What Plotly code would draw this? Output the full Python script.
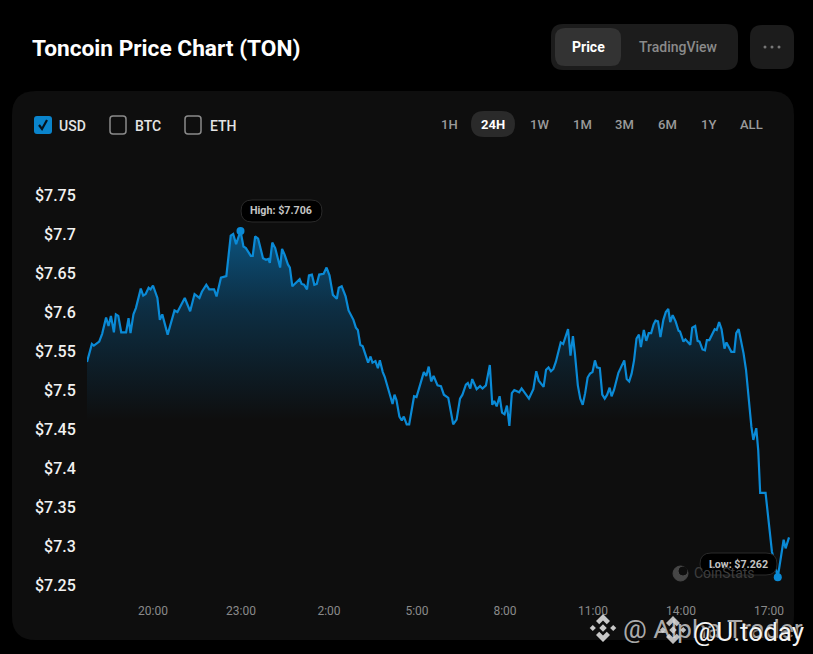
import pandas as pd
import plotly.graph_objects as go

# minutes since the first point of the 24H window
minutes = [
    0, 10, 14, 25, 31, 39, 44, 49, 55, 59, 64, 70, 80, 85, 89, 95, 100, 110, 115, 120,
    126, 130, 135, 144, 149, 154, 165, 179, 185, 200, 211, 220, 230, 235, 244, 250, 260, 265, 274, 285,
    294, 299, 305, 314, 320, 325, 335, 339, 344, 350, 360, 366, 371, 374, 379, 385, 395, 399, 404, 411,
    415, 420, 435, 439, 444, 450, 454, 460, 465, 470, 475, 484, 490, 496, 503, 511, 515, 521, 529, 535,
    545, 550, 554, 559, 564, 571, 575, 580, 584, 590, 595, 599, 605, 609, 625, 629, 633, 639, 644, 648,
    654, 659, 669, 674, 689, 694, 699, 704, 709, 717, 724, 730, 739, 749, 756, 763, 768, 775, 779, 784,
    788, 797, 804, 809, 816, 824, 829, 833, 838, 844, 849, 854, 859, 864, 869, 874, 884, 889, 898, 904,
    913, 919, 924, 934, 939, 944, 949, 954, 959, 969, 974, 984, 989, 994, 998, 1004, 1009, 1014, 1019, 1024,
    1029, 1034, 1039, 1043, 1049, 1054, 1059, 1064, 1069, 1073, 1078, 1087, 1099, 1104, 1109, 1114, 1119, 1124, 1129, 1133,
    1139, 1144, 1149, 1154, 1159, 1163, 1168, 1173, 1179, 1184, 1189, 1193, 1198, 1204, 1210, 1213, 1220, 1224, 1234, 1238,
    1244, 1249, 1253, 1259, 1264, 1268, 1273, 1284, 1288, 1293, 1298, 1304, 1308, 1318, 1324, 1328, 1333, 1343, 1348, 1354,
    1359, 1363, 1369, 1373, 1377, 1388, 1401, 1413, 1425, 1429, 1436,
]
prices = [
    7.536, 7.559, 7.557, 7.562, 7.572, 7.593, 7.582, 7.595, 7.574, 7.597, 7.595, 7.574, 7.574, 7.592, 7.573, 7.597, 7.605, 7.630, 7.621, 7.623,
    7.631, 7.629, 7.634, 7.618, 7.590, 7.597, 7.571, 7.602, 7.600, 7.618, 7.601, 7.623, 7.618, 7.626, 7.635, 7.629, 7.629, 7.620, 7.644, 7.646,
    7.698, 7.700, 7.687, 7.704, 7.684, 7.682, 7.672, 7.672, 7.697, 7.694, 7.669, 7.667, 7.668, 7.663, 7.689, 7.682, 7.657, 7.681, 7.674, 7.661,
    7.657, 7.633, 7.642, 7.636, 7.635, 7.629, 7.647, 7.648, 7.635, 7.636, 7.648, 7.649, 7.657, 7.647, 7.622, 7.617, 7.631, 7.633, 7.620, 7.602,
    7.590, 7.580, 7.577, 7.558, 7.556, 7.541, 7.535, 7.543, 7.535, 7.537, 7.528, 7.538, 7.523, 7.517, 7.482, 7.494, 7.487, 7.466, 7.461, 7.466,
    7.456, 7.456, 7.492, 7.491, 7.523, 7.518, 7.530, 7.511, 7.518, 7.506, 7.505, 7.494, 7.490, 7.456, 7.462, 7.489, 7.494, 7.507, 7.509, 7.502,
    7.514, 7.501, 7.505, 7.502, 7.506, 7.532, 7.481, 7.486, 7.479, 7.492, 7.471, 7.469, 7.480, 7.454, 7.496, 7.500, 7.497, 7.502, 7.494, 7.489,
    7.501, 7.524, 7.512, 7.504, 7.526, 7.529, 7.524, 7.527, 7.536, 7.561, 7.559, 7.578, 7.544, 7.569, 7.547, 7.506, 7.489, 7.481, 7.496, 7.516,
    7.521, 7.523, 7.538, 7.529, 7.528, 7.494, 7.489, 7.494, 7.503, 7.492, 7.500, 7.522, 7.538, 7.514, 7.511, 7.521, 7.538, 7.566, 7.571, 7.555,
    7.577, 7.563, 7.573, 7.573, 7.584, 7.589, 7.588, 7.568, 7.590, 7.600, 7.604, 7.587, 7.596, 7.588, 7.576, 7.575, 7.562, 7.565, 7.558, 7.580,
    7.582, 7.563, 7.562, 7.552, 7.551, 7.564, 7.564, 7.578, 7.577, 7.587, 7.578, 7.553, 7.561, 7.549, 7.549, 7.573, 7.578, 7.547, 7.526, 7.483,
    7.453, 7.436, 7.451, 7.423, 7.368, 7.368, 7.293, 7.260, 7.308, 7.297, 7.311,
]

price_ticks = [7.25, 7.3, 7.35, 7.4, 7.45, 7.5, 7.55, 7.6, 7.65, 7.7, 7.75]
price_tick_labels = ["$7.25", "$7.3", "$7.35", "$7.4", "$7.45", "$7.5", "$7.55", "$7.6", "$7.65", "$7.7", "$7.75"]
currencies = ["USD", "BTC", "ETH"]
time_ranges = ["1H", "24H", "1W", "1M", "3M", "6M", "1Y", "ALL"]

WIDTH, HEIGHT = 813, 654
LEFT, RIGHT, TOP, BOTTOM = 87, 23, 170, 62
BLUE = "#0a8ad6"
start = pd.Timestamp("2024-06-14 17:45")
times = start + pd.to_timedelta(minutes, unit="m")


# the page furniture is placed in screen pixels, so convert those to paper coordinates
def px(x):
    return (x - LEFT) / (WIDTH - LEFT - RIGHT)


def py(y):
    return 1 - (y - TOP) / (HEIGHT - TOP - BOTTOM)


def round_rect(x0, y0, x1, y1, r, fill, line="rgba(0,0,0,0)", layer="below", width=1):
    path = (
        f"M {px(x0 + r)} {py(y0)} L {px(x1 - r)} {py(y0)} Q {px(x1)} {py(y0)} {px(x1)} {py(y0 + r)} "
        f"L {px(x1)} {py(y1 - r)} Q {px(x1)} {py(y1)} {px(x1 - r)} {py(y1)} "
        f"L {px(x0 + r)} {py(y1)} Q {px(x0)} {py(y1)} {px(x0)} {py(y1 - r)} "
        f"L {px(x0)} {py(y0 + r)} Q {px(x0)} {py(y0)} {px(x0 + r)} {py(y0)} Z"
    )
    return dict(type="path", xref="paper", yref="paper", path=path, fillcolor=fill,
                line=dict(color=line, width=width), layer=layer)


def polygon(points, fill):
    path = "M " + " L ".join(f"{px(x)} {py(y)}" for x, y in points) + " Z"
    return dict(type="path", xref="paper", yref="paper", path=path, fillcolor=fill,
                line=dict(width=0), layer="above")


def circle(cx, cy, r, fill, line=None, layer="below"):
    return dict(type="circle", xref="paper", yref="paper", layer=layer,
                x0=px(cx - r), x1=px(cx + r), y0=py(cy + r), y1=py(cy - r),
                fillcolor=fill, line=dict(color=line or fill, width=1))


# binance mark of the repost watermark
def diamond_mark(cx, cy, size, fill):
    marks = []
    for dx, dy, r in [(0, 0, 0.27), (-0.73, 0, 0.22), (0.73, 0, 0.22)]:
        x, y = cx + dx * size, cy + dy * size
        marks.append(polygon([(x, y - r * size), (x + r * size, y), (x, y + r * size), (x - r * size, y)], fill))
    for sign in (-1, 1):
        chevron = [(0, 1), (0.5, 0.5), (0.27, 0.27), (0, 0.54), (-0.27, 0.27), (-0.5, 0.5)]
        marks.append(polygon([(cx + a * size, cy + sign * b * size) for a, b in chevron], fill))
    return marks


def label(x, y, text, size, color, anchor="center", weight=500, shadow=None):
    font = dict(family="Roboto", size=size, color=color, weight=weight)
    if shadow:
        font["shadow"] = shadow
    return dict(xref="paper", yref="paper", x=px(x), y=py(y), text=text,
                showarrow=False, xanchor=anchor, yanchor="middle", font=font)


fig = go.Figure()
fig.add_trace(go.Scatter(
    x=times, y=prices, mode="lines",
    line=dict(color=BLUE, width=2.2),
    fill="tozeroy",
    fillgradient=dict(
        type="vertical", start=7.72, stop=7.46,
        colorscale=[[0, "rgba(10,138,214,0.62)"], [0.45, "rgba(10,120,190,0.3)"], [1, "rgba(10,120,190,0)"]],
    ),
    hoverinfo="skip", showlegend=False,
))
# high and low dots
low_i = prices.index(min(prices))
high_i = prices.index(max(prices))
fig.add_trace(go.Scatter(
    x=[times[high_i], times[low_i]], y=[prices[high_i], prices[low_i]], mode="markers",
    marker=dict(color=BLUE, size=8), hoverinfo="skip", showlegend=False,
))

shapes = [
    round_rect(12, 91, 794, 640, 24, "#0e0e0e"),
    round_rect(551, 24, 738, 70, 12, "#1c1c1c"),
    round_rect(555, 28, 621, 66, 10, "#333333"),
    round_rect(750, 25, 794, 69, 12, "#1c1c1c"),
    round_rect(34, 116, 52, 134, 3, "#0a84cc"),
    round_rect(110, 116, 126, 134, 3, "rgba(0,0,0,0)", line="#8a8a8a", width=1.5),
    round_rect(185, 116, 201, 134, 3, "rgba(0,0,0,0)", line="#8a8a8a", width=1.5),
    round_rect(471, 111, 515, 137, 13, "#2a2a2a"),
    round_rect(241, 200, 322, 222, 11, "#000000", line="#2a2a2a", layer="above"),
    round_rect(700, 553, 777, 575, 11, "#000000", line="#2a2a2a", layer="above"),
    dict(type="path", xref="paper", yref="paper", layer="above",
         path=f"M {px(39)} {py(125)} L {px(42)} {py(129)} L {px(47)} {py(120)}",
         line=dict(color="#06121c", width=2.2)),
]
for dot_x in (765, 772, 779):
    shapes.append(round_rect(dot_x - 1.5, 45.5, dot_x + 1.5, 48.5, 1.5, "#777777"))
# CoinStats logo
shapes.append(circle(680.5, 573.5, 7.5, "#464646"))
shapes.append(circle(683, 571, 4, "#0e0e0e"))
shapes += diamond_mark(603, 628, 14, "#c8c8c8")
shapes += diamond_mark(673, 630, 14, "rgba(235,235,235,0.8)")

annotations = [
    label(30, 48, "Toncoin Price Chart (TON)", 22.7, "#ffffff", anchor="left", weight=700),
    label(588, 47, "Price", 14, "#ffffff", weight=700),
    label(678, 47, "TradingView", 14, "#8a8a8a"),
    label(281, 210, "High: $7.706", 10.7, "#c4c4c4", weight=700),
    label(738, 564, "Low: $7.262", 10.7, "#c4c4c4", weight=700),
    label(692, 573, "CoinStats", 14, "#3e3e3e", anchor="left", weight=400),
]
for x, name in zip((57, 133, 208), currencies):
    annotations.append(label(x, 126, name, 14, "#e4e4e4", anchor="left"))
for x, name in zip((449, 493, 539, 582, 624, 667, 708, 751), time_ranges):
    annotations.append(label(x, 124, name, 13, "#ffffff" if name == "24H" else "#9a9a9a",
                             weight=700 if name == "24H" else 500))
# watermarks over the picture
annotations.append(label(621, 628, "@ Alpha Trader", 26.5, "rgba(215,215,215,0.8)", anchor="left", weight=400))
annotations.append(label(691, 632, "@U.today", 26, "#f4f4f4", anchor="left", weight=400,
                         shadow="1px 1px 2px #000000"))

fig.update_layout(
    width=WIDTH, height=HEIGHT,
    margin=dict(l=LEFT, r=RIGHT, t=TOP, b=BOTTOM, autoexpand=False),
    paper_bgcolor="#000000", plot_bgcolor="rgba(0,0,0,0)",
    font=dict(family="Roboto"),
    shapes=shapes, annotations=annotations,
    xaxis=dict(
        range=[start, start + pd.Timedelta(minutes=1438)],
        tick0="2024-06-14 20:00", dtick=3 * 3600 * 1000, tickformat="%-H:%M",
        showgrid=False, zeroline=False, showline=False,
        ticks="outside", ticklen=8, tickcolor="rgba(0,0,0,0)",
        tickfont=dict(family="Roboto", size=12, color="#8a8a8a"),
    ),
    yaxis=dict(
        range=[7.2410, 7.7821],
        tickmode="array", tickvals=price_ticks, ticktext=price_tick_labels,
        showgrid=False, zeroline=False, showline=False,
        ticks="outside", ticklen=7, tickcolor="rgba(0,0,0,0)",
        tickfont=dict(family="Roboto", size=16, color="#f2f2f2", weight=500),
    ),
)

fig.write_html("out.html", config=dict(displayModeBar=False),
               post_script="document.body.style.margin='0';document.body.style.overflow='hidden';")
